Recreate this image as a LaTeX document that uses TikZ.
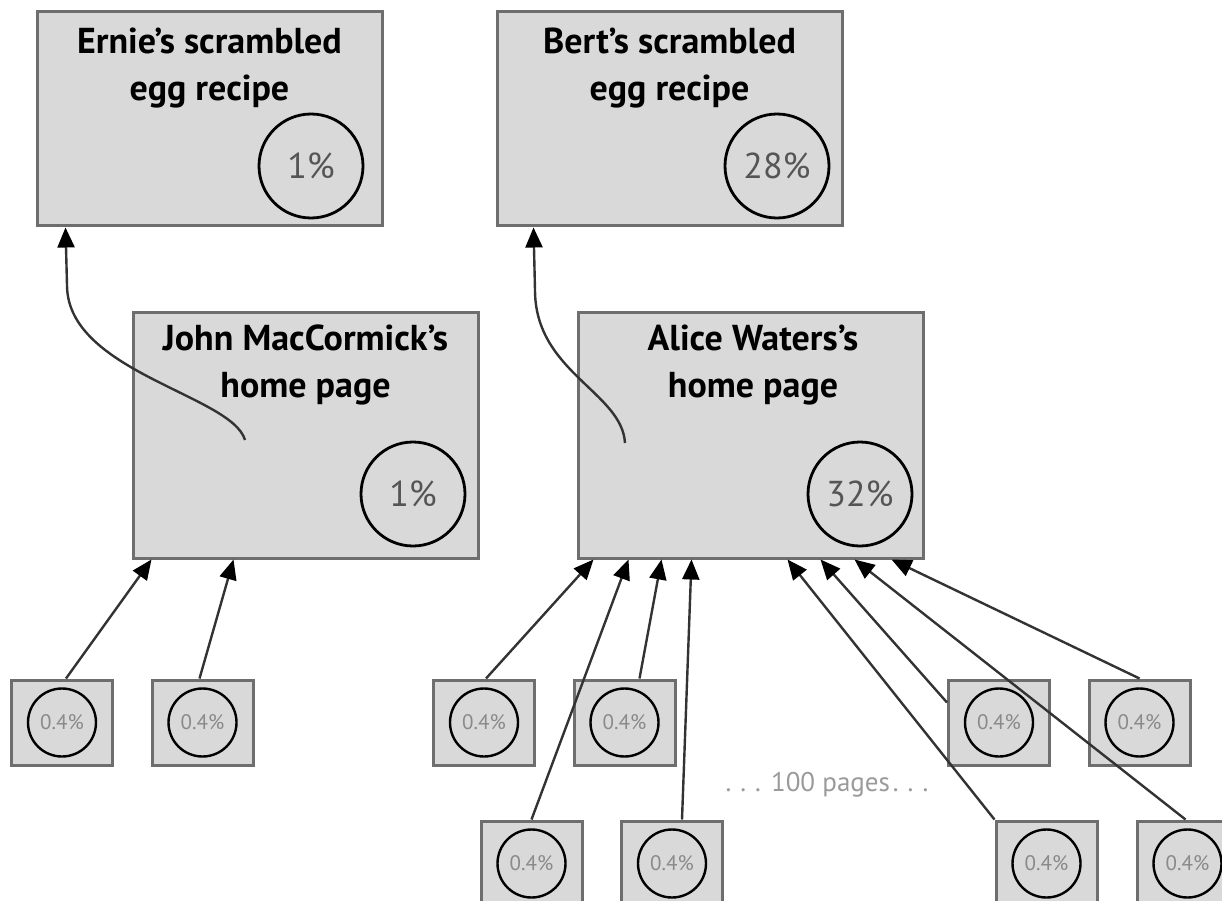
\documentclass[tikz,border=0pt]{standalone}
\usepackage{fontspec}
\setmainfont{PT Sans}
\usetikzlibrary{arrows.meta}
\definecolor{boxfill}{HTML}{D9D9D9}
\definecolor{boxline}{HTML}{6E6E6E}
\definecolor{linkcol}{HTML}{333333}
\definecolor{pcttext}{HTML}{555555}
\definecolor{smalltext}{HTML}{8A8A8A}
\definecolor{notetext}{HTML}{9A9A9A}
\begin{document}
\begin{tikzpicture}[x=1pt,y=-1pt,
  page/.style={rectangle, draw=boxline, fill=boxfill, line width=3pt, inner sep=0pt},
  bigpage/.style={page, minimum width=345pt, minimum height=214pt},
  midpage/.style={page, minimum width=345pt, minimum height=246pt},
  smallpage/.style={page, minimum width=101pt, minimum height=85pt},
  title/.style={align=center, inner sep=0pt, font=\fontsize{36}{47}\selectfont\bfseries},
  bigpct/.style={circle, draw=black, line width=2.8pt, minimum size=104pt, inner sep=0pt,
                 text=pcttext, font=\fontsize{36}{40}\selectfont},
  smallpct/.style={circle, draw=black, line width=2.4pt, minimum size=68pt, inner sep=0pt,
                   text=smalltext, font=\fontsize{21}{24}\selectfont},
  link/.style={draw=linkcol, line width=2.4pt, -{Triangle[length=20pt,width=17pt,color=black]}}
]
\useasboundingbox (0,0) rectangle (1222,901);

% recipe pages
\node[bigpage] (ernie) at (209.5,119) {};
\node[title, anchor=base] (ernieT) at (209.5,101) {Ernie's scrambled\\egg recipe};
\node[bigpct] (ernieP) at (311,166) {1\%};

\node[bigpage] (bert) at (669.5,119) {};
\node[title, anchor=base] (bertT) at (669.5,101) {Bert's scrambled\\egg recipe};
\node[bigpct] (bertP) at (777,166) {28\%};

% home pages
\node[midpage] (john) at (305.5,435) {};
\node[title, anchor=base] (johnT) at (305.5,397) {John MacCormick's\\home page};
\node[bigpct] (johnP) at (413,494) {1\%};

\node[midpage] (alice) at (750.5,435) {};
\node[title, anchor=base] (aliceT) at (753,397) {Alice Waters's\\home page};
\node[bigpct] (aliceP) at (860,494) {32\%};

% small linking pages, first row
\foreach \n/\x in {s1/62, s2/202.5, s3/484, s4/624.5, s5/999, s6/1139.5}{
  \node[smallpage] (\n) at (\x,722.5) {};
  \node[smallpct] (\n p) at (\x,722.5) {0.4\%};
}
% small linking pages, second row
\foreach \n/\x in {t1/531.5, t2/672, t3/1046.5, t4/1187.5}{
  \node[smallpage] (\n) at (\x,863.5) {};
  \node[smallpct] (\n p) at (\x,863.5) {0.4\%};
}

\node[text=notetext, font=\fontsize{27}{30}\selectfont, inner sep=0pt] (more) at (827,785)
  {.\hspace{9pt}.\hspace{9pt}.\hspace{10pt}100 pages\hspace{3pt}.\hspace{9pt}.\hspace{9pt}.};

% links to John MacCormick's home page
\draw[link] ([xshift=4pt]s1.north) -- ([xshift=20pt]john.south west);
\draw[link] ([xshift=-3pt]s2.north) -- ([xshift=102pt]john.south west);

% links to Alice Waters's home page
\draw[link] ([xshift=2pt]s3.north) -- ([xshift=17pt]alice.south west);
\draw[link] (t1.north) -- ([xshift=52pt]alice.south west);
\draw[link] ([xshift=15pt]s4.north) -- ([xshift=85pt]alice.south west);
\draw[link] ([xshift=10pt]t2.north) -- ([xshift=115pt]alice.south west);
\draw[link] (t3.north west) -- ([xshift=211pt]alice.south west);
\draw[link] ([yshift=20pt]s5.west) -- ([xshift=244pt]alice.south west);
\draw[link] ([xshift=-2pt]t4.north) -- ([xshift=278pt]alice.south west);
\draw[link] (s6.north) -- ([xshift=315pt]alice.south west);

% links from the home pages to the recipes
\coordinate (jfrom) at (245,440);
\coordinate (afrom) at (625,443);
\draw[link] (jfrom) .. controls (232,395) and (67,372) .. (67,285) -- ([xshift=30pt]ernie.south west);
\draw[link] (afrom) .. controls (622,392) and (535,372) .. (535,290) -- ([xshift=38pt]bert.south west);
\end{tikzpicture}
\end{document}
